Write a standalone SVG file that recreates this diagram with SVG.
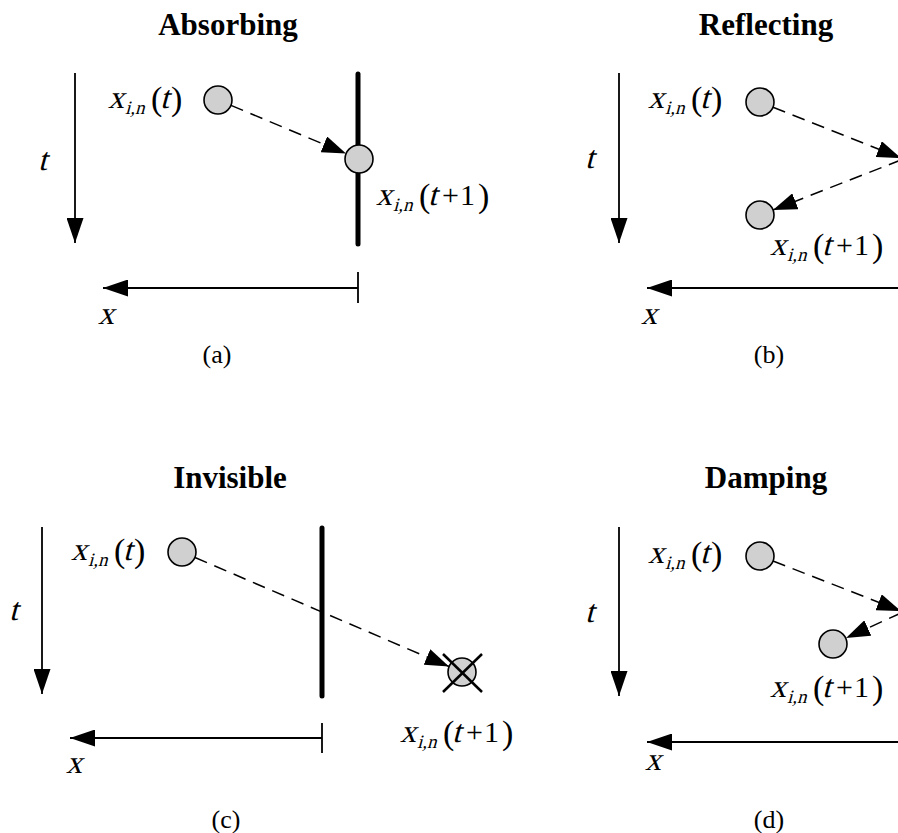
<svg xmlns="http://www.w3.org/2000/svg" width="898" height="833" viewBox="0 0 898 833">
<style>
  text { font-family: "Liberation Serif", serif; fill: #000; }
  .title { font-size: 31px; font-weight: bold; text-anchor: middle; }
  .cap { font-size: 26px; text-anchor: middle; }
  .mi { font-size: 32px; }
  .sub { font-size: 19px; }
  .par { font-size: 34px; }
  .num { font-size: 30px; }
  .axis { stroke: #000; stroke-width: 1.8; fill: none; }
  .tick { stroke: #000; stroke-width: 1.8; }
  .wall { stroke: #000; stroke-width: 5; stroke-linecap: round; }
  .dash { stroke: #000; stroke-width: 1.5; stroke-dasharray: 13 8; fill: none; }
  .pt { fill: #d0d0d0; stroke: #000; stroke-width: 1.6; }
  .cross { stroke: #000; stroke-width: 2.5; }
</style>
<defs>
  <marker id="axhead" markerUnits="userSpaceOnUse" markerWidth="25" markerHeight="17" refX="25" refY="8.5" orient="auto">
    <path d="M0,0 L25,8.5 L0,17 z" fill="#000"/>
  </marker>
  <marker id="dhead" markerUnits="userSpaceOnUse" markerWidth="24" markerHeight="17" refX="24" refY="8.5" orient="auto">
    <path d="M0,0 L24,8.5 L0,17 z" fill="#000"/>
  </marker>
  <g id="lbl-t">
    <text class="mi" transform="translate(-2,0) skewX(-15)">x</text>
    <text class="sub" transform="translate(15,6) skewX(-15)">i,n</text>
    <text class="par" x="41" y="2">(</text>
    <text class="mi" transform="translate(50,0) skewX(-15)">t</text>
    <text class="par" x="61" y="2">)</text>
  </g>
  <g id="lbl-t1">
    <text class="mi" transform="translate(-2,0) skewX(-15)">x</text>
    <text class="sub" transform="translate(15,6) skewX(-15)">i,n</text>
    <text class="par" x="41" y="2">(</text>
    <text class="mi" transform="translate(50,0) skewX(-15)">t</text>
    <text class="num" x="64">+</text>
    <text class="num" x="82">1</text>
    <text class="par" x="100" y="2">)</text>
  </g>
</defs>

<!-- Panel (a) Absorbing -->
<g id="panel-a">
  <text class="title" x="228" y="35">Absorbing</text>
  <text class="mi" transform="translate(38,170) skewX(-15)">t</text>
  <text class="mi" transform="translate(98,324) skewX(-15)">x</text>
  <text class="cap" x="217" y="363">(a)</text>
  <line class="wall" x1="358" y1="74" x2="358" y2="244"/>
  <line class="tick" x1="358" y1="272" x2="358" y2="303"/>
  <g id="a-xt"><circle class="pt" cx="218" cy="100" r="14"/><use href="#lbl-t" transform="translate(110,108)"/></g>
  <g id="a-xt1"><circle class="pt" cx="359" cy="159" r="14"/><use href="#lbl-t1" transform="translate(378,205)"/></g>
</g>

<!-- Panel (b) Reflecting -->
<g id="panel-b">
  <text class="title" x="766" y="35">Reflecting</text>
  <text class="mi" transform="translate(585,168) skewX(-15)">t</text>
  <text class="mi" transform="translate(641,324) skewX(-15)">x</text>
  <text class="cap" x="769" y="363">(b)</text>
  <line class="wall" x1="902" y1="74" x2="902" y2="244"/>
  <g id="b-xt"><circle class="pt" cx="760" cy="102" r="14"/><use href="#lbl-t" transform="translate(650,108)"/></g>
  <g id="b-xt1"><circle class="pt" cx="760" cy="215" r="14"/><use href="#lbl-t1" transform="translate(772,255)"/></g>
</g>

<!-- Panel (c) Invisible -->
<g id="panel-c">
  <text class="title" x="230" y="488">Invisible</text>
  <text class="mi" transform="translate(9,620) skewX(-15)">t</text>
  <text class="mi" transform="translate(66,773) skewX(-15)">x</text>
  <text class="cap" x="226" y="828">(c)</text>
  <line class="wall" x1="322" y1="528" x2="322" y2="696"/>
  <line class="tick" x1="322" y1="723" x2="322" y2="753"/>
  <g id="c-xt"><circle class="pt" cx="182" cy="552" r="14"/><use href="#lbl-t" transform="translate(73,560)"/></g>
  <g id="c-xt1">
    <circle class="pt" cx="462" cy="672" r="14"/>
    <line class="cross" x1="443" y1="654" x2="482" y2="692"/>
    <line class="cross" x1="482" y1="654" x2="443" y2="692"/>
    <use href="#lbl-t1" transform="translate(402,742)"/>
  </g>
</g>

<!-- Panel (d) Damping -->
<g id="panel-d">
  <text class="title" x="766" y="488">Damping</text>
  <text class="mi" transform="translate(585,622) skewX(-15)">t</text>
  <text class="mi" transform="translate(645,770) skewX(-15)">x</text>
  <text class="cap" x="769" y="828">(d)</text>
  <line class="wall" x1="902" y1="528" x2="902" y2="696"/>
  <g id="d-xt"><circle class="pt" cx="760" cy="556" r="14"/><use href="#lbl-t" transform="translate(650,563)"/></g>
  <g id="d-xt1"><circle class="pt" cx="833" cy="644" r="14"/><use href="#lbl-t1" transform="translate(772,697)"/></g>
</g>

<!-- Connectors -->
<g id="connectors">
  <!-- axes -->
  <line class="axis" x1="75" y1="73" x2="75" y2="243" marker-end="url(#axhead)"/>
  <line class="axis" x1="358" y1="288" x2="103" y2="288" marker-end="url(#axhead)"/>
  <line class="axis" x1="619" y1="73" x2="619" y2="243" marker-end="url(#axhead)"/>
  <line class="axis" x1="910" y1="288" x2="647" y2="288" marker-end="url(#axhead)"/>
  <line class="axis" x1="42" y1="527" x2="42" y2="694" marker-end="url(#axhead)"/>
  <line class="axis" x1="322" y1="738" x2="70" y2="738" marker-end="url(#axhead)"/>
  <line class="axis" x1="619" y1="527" x2="619" y2="696" marker-end="url(#axhead)"/>
  <line class="axis" x1="910" y1="742" x2="647" y2="742" marker-end="url(#axhead)"/>
  <!-- trajectories -->
  <line class="dash" x1="231" y1="105.4" x2="346" y2="153.6" marker-end="url(#dhead)"/>
  <line class="dash" x1="773" y1="107.2" x2="901" y2="158" marker-end="url(#dhead)"/>
  <line class="dash" x1="901" y1="160" x2="773" y2="210" marker-end="url(#dhead)"/>
  <line class="dash" x1="195" y1="557.5" x2="449" y2="666.5" marker-end="url(#dhead)"/>
  <line class="dash" x1="773" y1="561" x2="901" y2="611" marker-end="url(#dhead)"/>
  <line class="dash" x1="901" y1="613" x2="846" y2="638" marker-end="url(#dhead)"/>
</g>
</svg>
